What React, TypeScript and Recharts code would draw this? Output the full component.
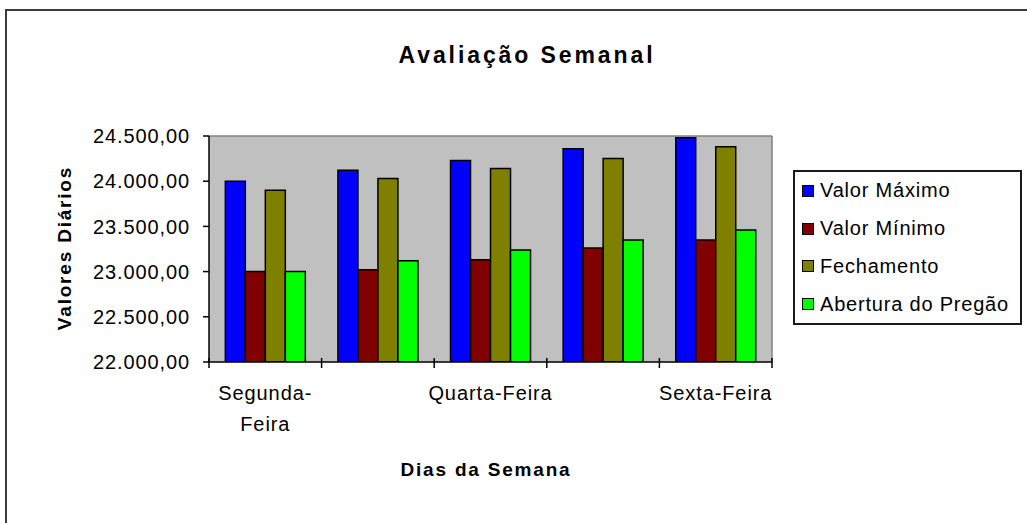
import { Bar, BarChart, CartesianGrid, XAxis, YAxis } from "recharts";

const DAYS = ["Segunda-Feira", "Terça-Feira", "Quarta-Feira", "Quinta-Feira", "Sexta-Feira"];
const VALOR_MAXIMO = [24000, 24120, 24230, 24360, 24480];
const VALOR_MINIMO = [23000, 23020, 23130, 23260, 23350];
const FECHAMENTO = [23900, 24030, 24140, 24250, 24380];
const ABERTURA = [23000, 23120, 23240, 23350, 23460];
const Y_TICKS = [22000, 22500, 23000, 23500, 24000, 24500];

const SERIES = [
  { key: "max", name: "Valor Máximo", color: "#0000ff", values: VALOR_MAXIMO },
  { key: "min", name: "Valor Mínimo", color: "#800000", values: VALOR_MINIMO },
  { key: "close", name: "Fechamento", color: "#808000", values: FECHAMENTO },
  { key: "open", name: "Abertura do Pregão", color: "#00ff00", values: ABERTURA },
];

const data = DAYS.map((day, i) => {
  const row: Record<string, string | number> = { day };
  SERIES.forEach((s) => (row[s.key] = s.values[i]));
  return row;
});

const FONT = "Arial, 'Liberation Sans', sans-serif";

function formatBR(v: number) {
  const [int, dec] = v.toFixed(2).split(".");
  return int.replace(/\B(?=(\d{3})+(?!\d))/g, ".") + "," + dec;
}

function YTick({ x, y, payload }: any) {
  return (
    <text x={x} y={y} dy="0.36em" textAnchor="end" fill="#000" fontSize={20} style={{ fontFamily: FONT, letterSpacing: 0.9 }}>
      {formatBR(payload.value)}
    </text>
  );
}

// Excel style: tick marks between categories, label on every other day
function DayTick({ x, y, payload, index, visibleTicksCount }: any) {
  const label: string = payload.value;
  const half = payload.offset || 0;
  const cut = label.indexOf("-") + 1;
  const lines = label.length > 12 ? [label.slice(0, cut), label.slice(cut)] : [label];
  const isLast = index === visibleTicksCount - 1;
  return (
    <g>
      <line x1={x - half} x2={x - half} y1={y - 4} y2={y + 6} stroke="#000" strokeWidth={1.5} />
      {isLast && <line x1={x + half} x2={x + half} y1={y - 4} y2={y + 6} stroke="#000" strokeWidth={1.5} />}
      {index % 2 === 0 && (
        <text x={x} y={y} textAnchor="middle" fill="#000" fontSize={20} style={{ fontFamily: FONT, letterSpacing: 0.9 }}>
          {lines.map((l, i) => (
            <tspan key={i} x={x} y={y + 38 + i * 31}>
              {l}
            </tspan>
          ))}
        </text>
      )}
    </g>
  );
}

export default function App() {
  return (
    <div style={{ position: "absolute", left: 0, top: 0, width: 1027, height: 523, overflow: "hidden", background: "#fff" }}>
      <div
        style={{
          position: "absolute",
          left: 5,
          top: 9,
          width: 1100,
          height: 600,
          borderLeft: "2px solid #3c3c3c",
          borderTop: "2px solid #3c3c3c",
        }}
      />
      <div style={{ position: "absolute", left: 0, top: 0 }}>
        <BarChart
          width={1027}
          height={523}
          data={data}
          margin={{ top: 135, right: 254, bottom: 61, left: 79 }}
          barCategoryGap="14.5%"
          barGap={0}
        >
          <CartesianGrid fill="#c0c0c0" stroke="none" horizontal={false} vertical={false} />
          {SERIES.map((s) => (
            <Bar key={s.key} dataKey={s.key} name={s.name} fill={s.color} stroke="#000" strokeWidth={1.5} isAnimationActive={false} />
          ))}
          <XAxis
            xAxisId="top"
            orientation="top"
            dataKey="day"
            height={1}
            tick={false}
            tickLine={false}
            axisLine={{ stroke: "#808080", strokeWidth: 1.5 }}
          />
          <YAxis
            yAxisId="right"
            orientation="right"
            domain={[22000, 24500]}
            allowDataOverflow
            width={1}
            tick={false}
            tickLine={false}
            axisLine={{ stroke: "#808080", strokeWidth: 1.5 }}
          />
          <XAxis
            dataKey="day"
            height={100}
            interval={0}
            tickSize={0}
            tickMargin={0}
            tickLine={false}
            tick={<DayTick />}
            axisLine={{ stroke: "#000", strokeWidth: 1.5 }}
          />
          <YAxis
            domain={[22000, 24500]}
            ticks={Y_TICKS}
            allowDataOverflow
            width={130}
            tickSize={6}
            tickMargin={13}
            tick={<YTick />}
            tickLine={{ stroke: "#000", strokeWidth: 1.5 }}
            axisLine={{ stroke: "#000", strokeWidth: 1.5 }}
          />
        </BarChart>
      </div>
      <div
        style={{
          position: "absolute",
          left: 367,
          top: 41,
          width: 320,
          textAlign: "center",
          fontFamily: FONT,
          fontWeight: "bold",
          fontSize: 23,
          letterSpacing: 2.9,
          lineHeight: "28px",
          whiteSpace: "nowrap",
        }}
      >
        Avaliação Semanal
      </div>
      <div
        style={{
          position: "absolute",
          left: 65 - 100,
          top: 248 - 12,
          width: 200,
          height: 24,
          lineHeight: "24px",
          textAlign: "center",
          transform: "rotate(-90deg)",
          fontFamily: FONT,
          fontWeight: "bold",
          fontSize: 19,
          letterSpacing: 1.8,
          whiteSpace: "nowrap",
        }}
      >
        Valores Diários
      </div>
      <div
        style={{
          position: "absolute",
          left: 486 - 120,
          top: 470 - 12,
          width: 240,
          lineHeight: "24px",
          textAlign: "center",
          fontFamily: FONT,
          fontWeight: "bold",
          fontSize: 19,
          letterSpacing: 1.8,
          whiteSpace: "nowrap",
        }}
      >
        Dias da Semana
      </div>
      <div
        style={{
          position: "absolute",
          left: 793,
          top: 170,
          width: 225,
          height: 151,
          border: "2px solid #1a1a1a",
          display: "flex",
          flexDirection: "column",
          justifyContent: "space-around",
          fontFamily: FONT,
          fontSize: 20,
          letterSpacing: 0.8,
        }}
      >
        {SERIES.map((s) => (
          <div key={s.key} style={{ display: "flex", alignItems: "center", height: 38, whiteSpace: "nowrap" }}>
            <span
              style={{
                display: "inline-block",
                width: 10,
                height: 10,
                marginLeft: 7,
                marginRight: 6,
                background: s.color,
                border: "1px solid #000",
              }}
            />
            {s.name}
          </div>
        ))}
      </div>
    </div>
  );
}
